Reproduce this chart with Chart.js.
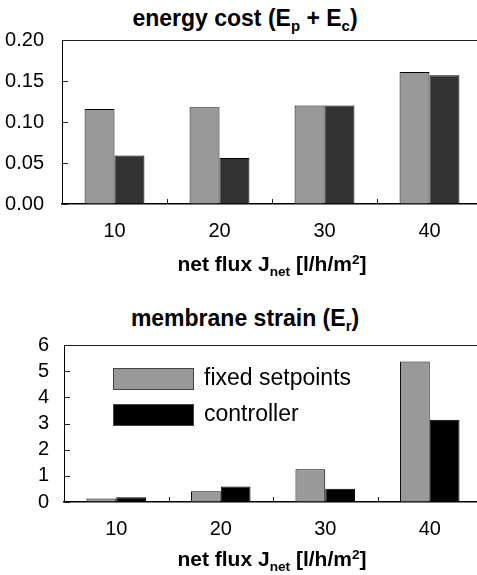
<!DOCTYPE html>
<html>
<head>
<meta charset="utf-8">
<title>energy cost and membrane strain</title>
<script src="https://cdn.jsdelivr.net/npm/chart.js@4"></script>
<style>
  body { margin: 0; width: 477px; height: 575px; overflow: hidden; position: relative; background: #fff; font-family: 'Liberation Sans', Arial, sans-serif; color: #000; }
  canvas { position: absolute; left: 0; }
  .title { position: absolute; left: 0; width: 490px; text-align: center; font-weight: bold; font-size: 23px; line-height: 23px; white-space: nowrap; }
  .axis-title { position: absolute; left: 62px; width: 420px; text-align: center; font-weight: bold; font-size: 21px; line-height: 21px; white-space: nowrap; }
  .lo { font-size: 0.65em; position: relative; top: 0.35em; }
  .hi { font-size: 0.65em; position: relative; top: -0.5em; }
</style>
</head>
<body>
<div class="title" style="top:7px">energy cost (E<span class="lo">p</span> + E<span class="lo">c</span>)</div>
<canvas id="cost-chart" width="490" height="228" style="top:26px"></canvas>
<div class="axis-title" style="top:253px">net flux J<span class="lo">net</span> [l/h/m<span class="hi">2</span>]</div>

<div class="title" style="top:307px">membrane strain (E<span class="lo">r</span>)</div>
<canvas id="strain-chart" width="490" height="221" style="top:331px"></canvas>
<div class="axis-title" style="top:548px">net flux J<span class="lo">net</span> [l/h/m<span class="hi">2</span>]</div>

<script>
'use strict';

// ******** DATA **************
let fluxLabels = ['10', '20', '30', '40'];
let seriesNames = ['fixed setpoints', 'controller'];

let costFixed = [0.116, 0.118, 0.120, 0.161];
let costControl = [0.059, 0.056, 0.120, 0.157];
let costTicks = [0, 0.05, 0.10, 0.15, 0.20];

let strainFixed = [0.13, 0.41, 1.25, 5.37];
let strainControl = [0.18, 0.59, 0.51, 3.14];
let strainTicks = [0, 1, 2, 3, 4, 5, 6];

let fontFamily = "'Liberation Sans', Arial, sans-serif";

// ******** PLUGINS **************

// top line of the frame + short tick marks pointing into the plot
let frameTicks = {
  id: 'frameTicks',
  afterDraw(chart) {
    let ctx = chart.ctx;
    let area = chart.chartArea;
    let xScale = chart.scales.x;
    let yScale = chart.scales.y;
    ctx.save();
    ctx.strokeStyle = '#222';
    ctx.lineWidth = 1;
    ctx.beginPath();
    ctx.moveTo(area.left, area.top + 0.5);
    ctx.lineTo(area.right, area.top + 0.5);

    // category boundaries on the bottom axis
    for (let i = 0; i < xScale.ticks.length - 1; i++) {
      let bx = Math.round((xScale.getPixelForTick(i) + xScale.getPixelForTick(i + 1)) / 2) + 0.5;
      ctx.moveTo(bx, area.bottom);
      ctx.lineTo(bx, area.bottom - 5);
    }

    // value ticks on the left axis
    yScale.ticks.forEach(function (t) {
      let ty = Math.round(yScale.getPixelForValue(t.value)) + 0.5;
      ctx.moveTo(area.left, ty);
      ctx.lineTo(area.left + 6, ty);
    });
    ctx.stroke();
    ctx.restore();
  }
};

// legend drawn inside the plot area (top left)
let insideLegend = {
  id: 'insideLegend',
  afterDraw(chart) {
    let ctx = chart.ctx;
    let area = chart.chartArea;
    ctx.save();
    ctx.font = '23px ' + fontFamily;
    ctx.textBaseline = 'middle';
    chart.data.datasets.forEach(function (ds, i) {
      let x = area.left + 49;
      let y = area.top + 23 + i * 36;
      ctx.fillStyle = ds.backgroundColor;
      ctx.fillRect(x, y, 81, 22);
      ctx.strokeStyle = '#444';
      ctx.lineWidth = 1;
      ctx.strokeRect(x + 0.5, y + 0.5, 80, 21);
      ctx.fillStyle = '#000';
      ctx.fillText(ds.label, x + 91, y + 11);
    });
    ctx.restore();
  }
};

// ******** CHART BUILDER **************

function makeChart(canvasId, fixedVals, controlVals, colors, ticks, opts) {
  let canvasElem = document.getElementById(canvasId);
  let config = {
    type: 'bar',
    data: {
      labels: fluxLabels,
      datasets: [{
        label: seriesNames[0],
        data: fixedVals,
        backgroundColor: colors[0],
        borderColor: '#000',
        borderWidth: 1
      },
      {
        label: seriesNames[1],
        data: controlVals,
        backgroundColor: colors[1],
        borderColor: '#000',
        borderWidth: 1
      }]
    },
    options: {
      responsive: false,
      animation: false,
      devicePixelRatio: 1,
      layout: { padding: { top: 14, right: 8, bottom: 0, left: 0 } },
      categoryPercentage: 0.57,
      barPercentage: 1,
      plugins: {
        legend: { display: false },
        tooltip: { enabled: false },
        title: { display: false }
      },
      scales: {
        x: {
          grid: { drawOnChartArea: false, drawTicks: false },
          border: { color: '#000', width: 1.5 },
          ticks: { color: '#000', padding: 15, font: { family: fontFamily, size: 20 } },
          afterFit(scale) { scale.height = opts.xHeight; }
        },
        y: {
          min: ticks[0],
          max: ticks[ticks.length - 1],
          grid: { drawOnChartArea: false, drawTicks: false },
          border: { color: '#000', width: 1 },
          ticks: {
            color: '#000',
            autoSkip: false,
            padding: opts.yPad,
            font: { family: fontFamily, size: 20 },
            callback: function (v) { return opts.decimals ? v.toFixed(opts.decimals) : String(v); }
          },
          afterBuildTicks(scale) { scale.ticks = ticks.map(function (v) { return { value: v }; }); },
          afterFit(scale) {
            scale.width = opts.yWidth;
            scale.paddingTop = 0;
            scale.paddingBottom = 0;
          }
        }
      }
    },
    plugins: opts.plugins
  };
  return new Chart(canvasElem, config);
}

makeChart('cost-chart', costFixed, costControl, ['#999999', '#333333'], costTicks,
  { xHeight: 50, yWidth: 62, yPad: 18, decimals: 2, plugins: [frameTicks] });

makeChart('strain-chart', strainFixed, strainControl, ['#999999', '#000000'], strainTicks,
  { xHeight: 50, yWidth: 64, yPad: 15, decimals: 0, plugins: [frameTicks, insideLegend] });
</script>
</body>
</html>
